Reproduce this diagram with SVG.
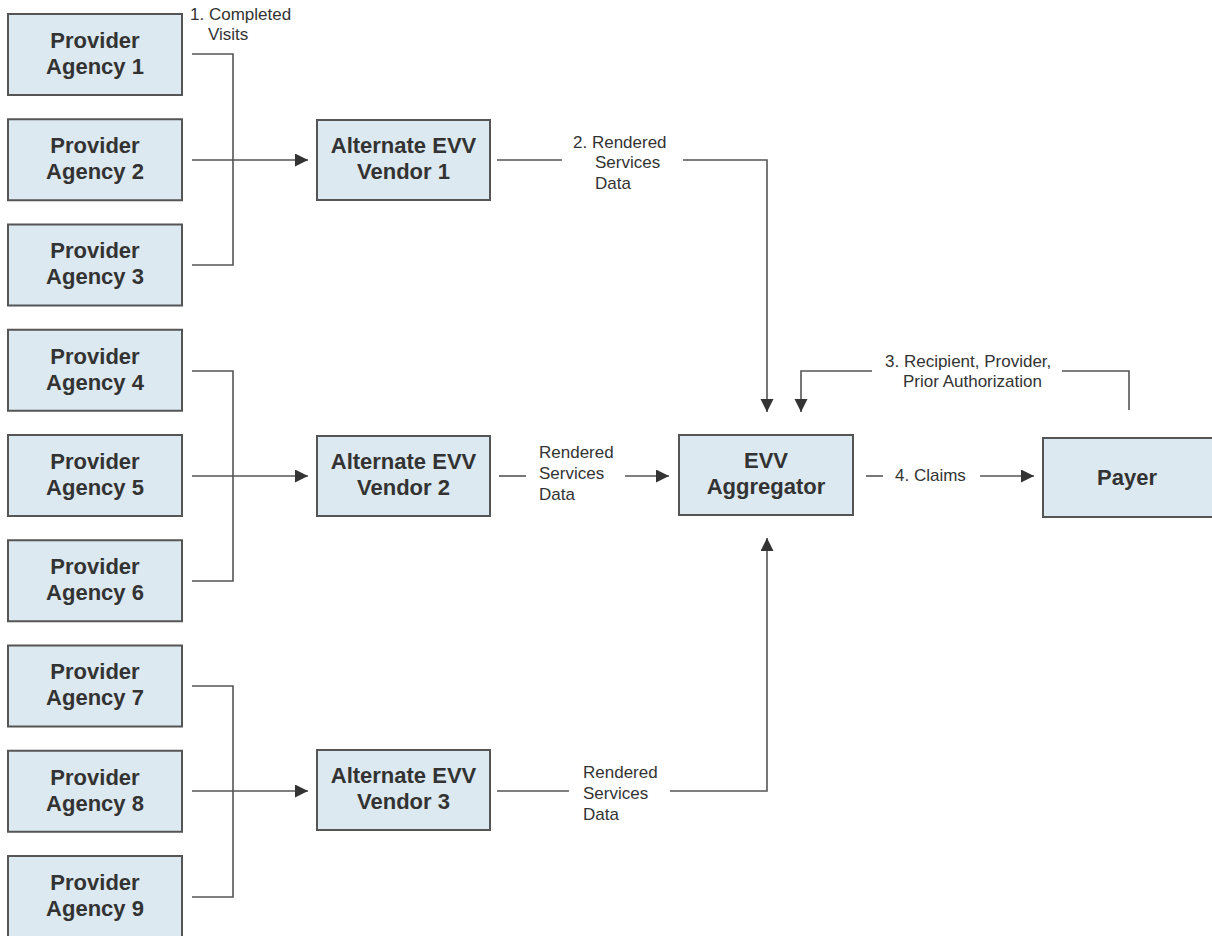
<svg xmlns="http://www.w3.org/2000/svg" width="1212" height="936" viewBox="0 0 1212 936">
<style>
.box{fill:#dce9f0;stroke:#555;stroke-width:2}
.bt{font-family:"Liberation Sans",Arial,sans-serif;font-weight:bold;font-size:22px;fill:#333;text-anchor:middle}
.lt{font-family:"Liberation Sans",Arial,sans-serif;font-size:17px;fill:#333}
.ln{fill:none;stroke:#555;stroke-width:1.6}
</style>
<defs>
<marker id="ah" markerUnits="userSpaceOnUse" markerWidth="14" markerHeight="14" refX="13" refY="6.5" orient="auto">
<path d="M0,0 L13,6.5 L0,13 Z" fill="#333"/>
</marker>
</defs>
<rect width="1212" height="936" fill="#fff"/>
<g id="connectors">
<path class="ln" d="M192,54 H233 V265 H192"/>
<path class="ln" d="M192,160 H308" marker-end="url(#ah)"/>
<path class="ln" d="M192,371 H233 V581 H192"/>
<path class="ln" d="M192,476 H308" marker-end="url(#ah)"/>
<path class="ln" d="M192,686 H233 V897 H192"/>
<path class="ln" d="M192,791 H308" marker-end="url(#ah)"/>
<path class="ln" d="M497,160 H562"/>
<path class="ln" d="M683,160 H767 V412" marker-end="url(#ah)"/>
<path class="ln" d="M499,476 H526"/>
<path class="ln" d="M625,476 H669" marker-end="url(#ah)"/>
<path class="ln" d="M497,791 H569"/>
<path class="ln" d="M670,791 H767 V538" marker-end="url(#ah)"/>
<path class="ln" d="M1129,410 V371 H1062"/>
<path class="ln" d="M872,371 H801 V412" marker-end="url(#ah)"/>
<path class="ln" d="M866,476 H883"/>
<path class="ln" d="M980,476 H1034" marker-end="url(#ah)"/>
<text class="lt" x="190" y="20">1. Completed</text>
<text class="lt" x="208" y="40">Visits</text>
<text class="lt" x="573" y="148">2. Rendered</text>
<text class="lt" x="595" y="168">Services</text>
<text class="lt" x="595" y="189">Data</text>
<text class="lt" x="539" y="458">Rendered</text>
<text class="lt" x="539" y="479">Services</text>
<text class="lt" x="539" y="500">Data</text>
<text class="lt" x="583" y="778">Rendered</text>
<text class="lt" x="583" y="799">Services</text>
<text class="lt" x="583" y="820">Data</text>
<text class="lt" x="885" y="367">3. Recipient, Provider,</text>
<text class="lt" x="903" y="387">Prior Authorization</text>
<text class="lt" x="895" y="481">4. Claims</text>
</g>
<g id="provider1"><rect class="box" x="8" y="14" width="174" height="81"/><text class="bt" x="95" y="48">Provider</text><text class="bt" x="95" y="74">Agency 1</text></g>
<g id="provider2"><rect class="box" x="8" y="119.25" width="174" height="81"/><text class="bt" x="95" y="153">Provider</text><text class="bt" x="95" y="179">Agency 2</text></g>
<g id="provider3"><rect class="box" x="8" y="224.5" width="174" height="81"/><text class="bt" x="95" y="258">Provider</text><text class="bt" x="95" y="284">Agency 3</text></g>
<g id="provider4"><rect class="box" x="8" y="329.75" width="174" height="81"/><text class="bt" x="95" y="364">Provider</text><text class="bt" x="95" y="390">Agency 4</text></g>
<g id="provider5"><rect class="box" x="8" y="435" width="174" height="81"/><text class="bt" x="95" y="469">Provider</text><text class="bt" x="95" y="495">Agency 5</text></g>
<g id="provider6"><rect class="box" x="8" y="540.25" width="174" height="81"/><text class="bt" x="95" y="574">Provider</text><text class="bt" x="95" y="600">Agency 6</text></g>
<g id="provider7"><rect class="box" x="8" y="645.5" width="174" height="81"/><text class="bt" x="95" y="679">Provider</text><text class="bt" x="95" y="705">Agency 7</text></g>
<g id="provider8"><rect class="box" x="8" y="750.75" width="174" height="81"/><text class="bt" x="95" y="785">Provider</text><text class="bt" x="95" y="811">Agency 8</text></g>
<g id="provider9"><rect class="box" x="8" y="856" width="174" height="81"/><text class="bt" x="95" y="890">Provider</text><text class="bt" x="95" y="916">Agency 9</text></g>
<g id="vendor1"><rect class="box" x="317" y="120" width="173" height="80"/><text class="bt" x="403.5" y="153">Alternate EVV</text><text class="bt" x="403.5" y="179">Vendor 1</text></g>
<g id="vendor2"><rect class="box" x="317" y="436" width="173" height="80"/><text class="bt" x="403.5" y="469">Alternate EVV</text><text class="bt" x="403.5" y="495">Vendor 2</text></g>
<g id="vendor3"><rect class="box" x="317" y="750" width="173" height="80"/><text class="bt" x="403.5" y="783">Alternate EVV</text><text class="bt" x="403.5" y="809">Vendor 3</text></g>
<g id="aggregator"><rect class="box" x="679" y="435" width="174" height="80"/><text class="bt" x="766" y="468">EVV</text><text class="bt" x="766" y="494">Aggregator</text></g>
<g id="payer"><rect class="box" x="1043" y="438" width="175" height="79"/><text class="bt" x="1127" y="485">Payer</text></g>
</svg>
